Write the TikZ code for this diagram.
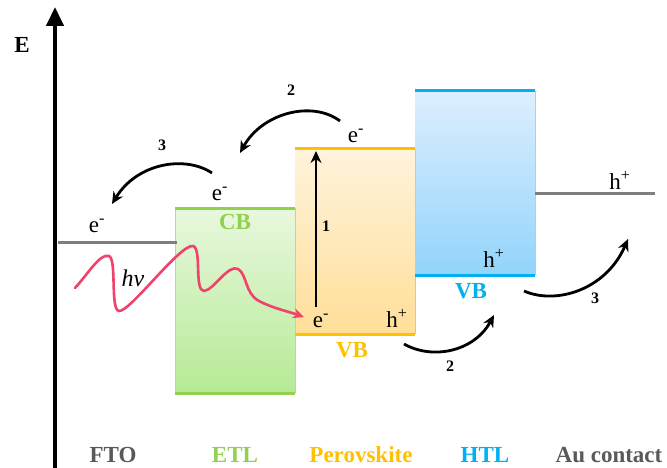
\documentclass[tikz,border=0pt]{standalone}
\usepackage{fontspec}
\setmainfont{Liberation Serif}
\usetikzlibrary{arrows.meta}
\definecolor{etlline}{HTML}{92D050}
\definecolor{etltop}{HTML}{E9F8DE}
\definecolor{etlbot}{HTML}{B6EA96}
\definecolor{perline}{HTML}{FFC000}
\definecolor{pertop}{HTML}{FFF3DC}
\definecolor{perbot}{HTML}{FFDF98}
\definecolor{htlline}{HTML}{00B0F0}
\definecolor{htltop}{HTML}{DDEFFE}
\definecolor{htlbot}{HTML}{92D4FB}
\definecolor{metal}{HTML}{7F7F7F}
\definecolor{labgray}{HTML}{595959}
\definecolor{wave}{HTML}{F0426A}
\definecolor{edge}{HTML}{C8C8C8}
\tikzset{
  lbl/.style={font=\fontsize{23}{26}\selectfont, inner sep=0pt},
  blbl/.style={font=\fontsize{23}{26}\selectfont\bfseries, inner sep=0pt},
  num/.style={font=\fontsize{16}{18}\selectfont\bfseries, inner sep=0pt},
  bandline/.style={line width=3pt},
  sideedge/.style={draw=edge, line width=0.8pt},
  flow/.style={line width=2.8pt, -{Stealth[length=12pt,width=11pt]}},
}
\begin{document}
\begin{tikzpicture}[x=1pt,y=-1pt]
\useasboundingbox (0,0) rectangle (667,468);
% boxes
\shade[top color=etltop, bottom color=etlbot] (175,208) rectangle (295,393);
\shade[top color=pertop, bottom color=perbot] (295,149) rectangle (415,334);
\shade[top color=htltop, bottom color=htlbot] (415,91) rectangle (535,275);
\draw[sideedge] (175,208) -- (175,393);
\draw[sideedge] (295,208) -- (295,393);
\draw[sideedge] (415,149) -- (415,334);
\draw[sideedge] (535,91) -- (535,275);
\draw[bandline, etlline] (175,208) -- (295,208);
\draw[bandline, etlline] (175,393) -- (295,393);
\draw[bandline, perline] (295,149) -- (415,149);
\draw[bandline, perline] (295,334) -- (415,334);
\draw[bandline, htlline] (415,91) -- (535,91);
\draw[bandline, htlline] (415,275) -- (535,275);
% metal levels
\draw[line width=3pt, metal] (58,242) -- (177,242);
\draw[line width=3pt, metal] (535,194) -- (655,194);
% energy axis
\coordinate (axb) at (55,470);
\coordinate (axt) at (55,7);
\draw[line width=4.5pt, -{Triangle[length=19pt,width=17pt]}] (axb) -- (axt);
\node[blbl] (E) at (22,45) {E};
% texts
\node[lbl] (efto) at (97,226) {e\textsuperscript{-}};
\node[lbl] (eetl) at (220,194) {e\textsuperscript{-}};
\node[blbl, text=etlline] (cb) at (235,222) {CB};
\node[lbl] (eper) at (356,136) {e\textsuperscript{-}};
\node[lbl] (eperlow) at (321,321) {e\textsuperscript{-}};
\node[lbl] (hper) at (397,318) {h\textsuperscript{+}};
\node[blbl, text=perline] (vbper) at (352,350) {VB};
\node[lbl] (hhtl) at (494,258) {h\textsuperscript{+}};
\node[blbl, text=htlline] (vbhtl) at (471,291) {VB};
\node[lbl] (hau) at (620,180) {h\textsuperscript{+}};
\node[lbl, font=\fontsize{24}{26}\selectfont\itshape] (hv) at (133,278) {hv};
% numbers
\node[num] (n1) at (326,226) {1};
\node[num] (n2a) at (291,90) {2};
\node[num] (n3a) at (162,145) {3};
\node[num] (n2b) at (450,366) {2};
\node[num] (n3b) at (595,298) {3};
% excitation arrow
\coordinate (x1s) at (316,307);
\coordinate (x1e) at (316,151);
\draw[flow] (x1s) -- (x1e);
% transfer arrows
\coordinate (a2s) at (340,121); \coordinate (a2e) at (240,153);
\draw[flow] (a2s) .. controls (312,100) and (262,113) .. (a2e);
\coordinate (a3s) at (212,173); \coordinate (a3e) at (112,204);
\draw[flow] (a3s) .. controls (185,155) and (137,163) .. (a3e);
\coordinate (b2s) at (404,344); \coordinate (b2e) at (494,315);
\draw[flow] (b2s) .. controls (432,360) and (474,352) .. (b2e);
\coordinate (b3s) at (524,291); \coordinate (b3e) at (628,239);
\draw[flow] (b3s) .. controls (556,305) and (606,290) .. (b3e);
% photon
\coordinate (ph0) at (75,288);
\coordinate (ph1) at (304,317);
\draw[wave, line width=2.6pt, line cap=round, -{Stealth[length=11pt,width=10pt]}]
  (ph0) .. controls (88,274) and (100,253) .. (109,256)
  .. controls (117,259) and (110,310) .. (119,311)
  .. controls (130,312) and (180,244) .. (193,246)
  .. controls (202,248) and (194,291) .. (204,291)
  .. controls (214,290) and (228,264) .. (238,269)
  .. controls (247,274) and (245,294) .. (259,301)
  .. controls (272,308) and (290,312) .. (ph1);
% bottom labels
\node[blbl, text=labgray] (lfto) at (113,455) {FTO};
\node[blbl, text=etlline] (letl) at (235,455) {ETL};
\node[blbl, text=perline] (lper) at (361,455) {Perovskite};
\node[blbl, text=htlline] (lhtl) at (485,455) {HTL};
\node[blbl, text=labgray] (lau) at (609,455) {Au contact};
\end{tikzpicture}
\end{document}
